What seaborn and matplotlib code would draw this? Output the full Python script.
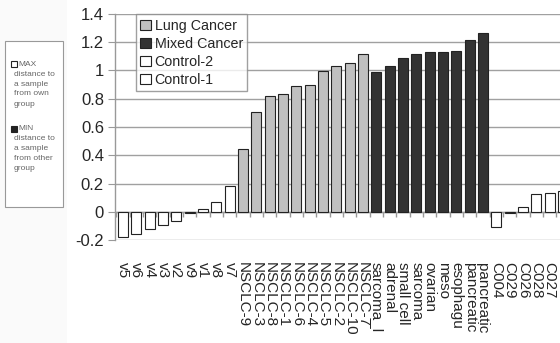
import numpy as np
import pandas as pd
import matplotlib
matplotlib.use("Agg")
import matplotlib.pyplot as plt
from matplotlib.patches import Patch, Rectangle
import seaborn as sns

# data
control1_names = ["v5", "v6", "v4", "v3", "v2", "v9", "v1", "v8", "v7"]
control1_vals = [-0.18, -0.158, -0.122, -0.094, -0.064, -0.01, 0.019, 0.069, 0.179]

lung_names = ["NSCLC-9", "NSCLC-3", "NSCLC-8", "NSCLC-1", "NSCLC-6",
              "NSCLC-4", "NSCLC-5", "NSCLC-2", "NSCLC-10", "NSCLC-7"]
lung_vals = [0.443, 0.709, 0.82, 0.834, 0.893, 0.90, 1.0, 1.035, 1.05, 1.117]

mixed_names = ["sarcoma_l", "adrenal", "small cell", "sarcoma", "ovarian",
               "meso", "esophagu", "pancreatic", "pancreatic "]
mixed_vals = [0.99, 1.03, 1.086, 1.12, 1.13, 1.13, 1.14, 1.215, 1.267]

control2_names = ["C004", "C029", "C026", "C028", "C027", "C025"]
control2_vals = [-0.11, -0.008, 0.037, 0.127, 0.136, 0.15]

df = pd.DataFrame({
    "sample": control1_names + lung_names + mixed_names + control2_names,
    "value": control1_vals + lung_vals + mixed_vals + control2_vals,
    "group": (["Control-1"] * len(control1_names) + ["Lung Cancer"] * len(lung_names)
              + ["Mixed Cancer"] * len(mixed_names) + ["Control-2"] * len(control2_names)),
})

colors = {"Lung Cancer": "#c0c0c0", "Mixed Cancer": "#333333",
          "Control-2": "white", "Control-1": "white"}

sns.set_style("white")
plt.rcParams["font.family"] = ["Liberation Sans", "DejaVu Sans"]

fig = plt.figure(figsize=(5.6, 3.43), dpi=100)
W, H = 560, 343
ax = fig.add_axes([115 / W, 1 - 240 / H, 1 - 115 / W, (240 - 14) / H])

# faint panel behind the side legend
fig.patches.append(Rectangle((0, 0), 67 / W, 1, transform=fig.transFigure,
                             facecolor="#fafafa", edgecolor="none", zorder=0))

sns.barplot(data=df, x="sample", y="value", hue="group", palette=colors,
            dodge=False, width=0.75, edgecolor="#222222", linewidth=0.8,
            legend=False, ax=ax, zorder=3)

n = len(df)
ax.set_ylim(-0.2, 1.4)
ax.set_xlim(-0.6, 32.78)
ax.set_yticks(np.arange(-0.2, 1.41, 0.2))
ax.set_yticklabels(["-0.2", "0", "0.2", "0.4", "0.6", "0.8", "1", "1.2", "1.4"])
ax.yaxis.grid(True, color="#a0a0a0", linewidth=1)
ax.set_axisbelow(True)
for s in ["top", "right", "bottom"]:
    ax.spines[s].set_visible(False)
ax.spines["left"].set_color("#999999")
ax.spines["left"].set_linewidth(1)

ax.axhline(0, color="#999999", linewidth=1, zorder=2)
ax.vlines(np.arange(n + 1) - 0.5, 0, -0.04, color="#999999", linewidth=1, zorder=2)

ax.tick_params(axis="y", length=5, color="#999999", labelsize=12, pad=3, left=True)
ax.tick_params(axis="x", length=0, labelsize=11, pad=16)
plt.setp(ax.get_xticklabels(), rotation=-90, ha="center", va="top")
ax.set_xlabel("")
ax.set_ylabel("")

order = ["Lung Cancer", "Mixed Cancer", "Control-2", "Control-1"]
handles = [Patch(facecolor=colors[g], edgecolor="#222222", linewidth=0.8) for g in order]
leg = ax.legend(handles, order, loc="upper left", bbox_to_anchor=(0.047, 0.998),
                borderaxespad=0, fontsize=10.3, frameon=True, fancybox=False,
                handlelength=0.75, handleheight=0.75, handletextpad=0.25,
                labelspacing=0.28, borderpad=0.3)
leg.get_frame().set_edgecolor("#888888")
leg.get_frame().set_linewidth(1)
leg.set_zorder(5)

# side legend box on the left
fig.patches.append(Rectangle((5 / W, 1 - 207 / H), 58 / W, 166 / H,
                             transform=fig.transFigure, facecolor="white",
                             edgecolor="#999999", linewidth=0.8, zorder=1))
side = [("MAX", "white", 64, ["distance to", "a sample", "from own", "group"]),
        ("MIN", "#222222", 129, ["distance to", "a sample", "from other", "group"])]
for head, col, ypx, lines in side:
    fig.patches.append(Rectangle((11 / W, 1 - (ypx + 3) / H), 6 / W, 6 / H,
                                 transform=fig.transFigure, facecolor=col,
                                 edgecolor="#222222", linewidth=0.8, zorder=2))
    fig.text(18 / W, 1 - ypx / H, head, fontsize=6, color="#666666",
             va="center", ha="left")
    for k, t in enumerate(lines):
        fig.text(14 / W, 1 - (ypx + 10 + 10 * k) / H, t, fontsize=6,
                 color="#666666", va="center", ha="left")

fig.savefig("out.png", dpi=100)
